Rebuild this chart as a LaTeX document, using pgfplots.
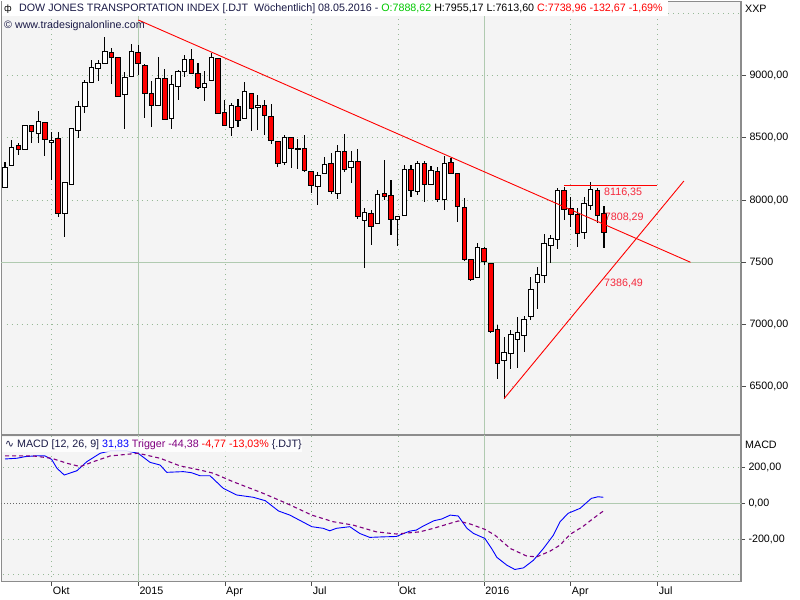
\documentclass[border=0pt]{standalone}
\usepackage{pgfplots}
\pgfplotsset{compat=1.18}
\usepackage{pgfplotstable}
\usepackage{fontspec}
\setmainfont{Liberation Sans}
\newfontfamily\djv{DejaVu Sans}

\definecolor{bgc}{RGB}{244,244,244}
\definecolor{gridc}{RGB}{150,185,150}
\definecolor{gridsolid}{RGB}{176,202,176}
\definecolor{navy}{RGB}{25,25,70}
\definecolor{ored}{RGB}{255,0,0}
\definecolor{ogreen}{RGB}{0,200,0}
\definecolor{tpurple}{RGB}{128,0,128}
\definecolor{lbl}{RGB}{245,40,60}
\definecolor{framec}{RGB}{140,140,140}

\newcommand\fs{\fontsize{10.7bp}{12bp}\selectfont}

\pgfplotstableread{
x o h l c
0 8104 8305 8104 8265
1 8275 8484 8275 8426
2 8436 8463 8366 8410
3 8410 8603 8410 8603
4 8603 8603 8463 8554
5 8538 8718 8463 8635
6 8627 8627 8358 8484
7 8466 8549 8162 8482
8 8492 8549 7867 7894
9 7894 8144 7701 8144
10 8128 8573 8128 8573
11 8557 8793 8498 8756
12 8756 8962 8699 8949
13 8949 9126 8949 9062
14 9054 9126 8954 9096
15 9102 9311 9102 9198
16 9190 9225 8933 9150
17 9150 9150 8836 8836
18 8852 9030 8575 8989
19 8997 9255 8997 9198
20 9190 9247 9005 9102
21 9078 9094 8656 8860
22 8860 8957 8587 8764
23 8761 9153 8753 8981
24 8981 9054 8640 8648
25 8656 9005 8575 8933
26 8917 9046 8801 9030
27 9030 9166 8989 9134
28 9134 9215 9021 9021
29 9021 9102 8893 8909
30 8909 9038 8796 8941
31 8965 9182 8965 9150
32 9142 9142 8691 8699
33 8708 8804 8603 8603
34 8587 8780 8519 8764
35 8756 8812 8587 8643
36 8659 8949 8659 8877
37 8860 8860 8555 8740
38 8748 8844 8563 8764
39 8764 8804 8522 8683
40 8675 8772 8450 8482
41 8474 8474 8265 8297
42 8305 8522 8281 8506
43 8506 8506 8257 8418
44 8406 8490 8249 8413
45 8418 8523 8225 8235
46 8229 8229 8055 8120
47 8112 8229 7964 8197
48 8216 8350 8216 8289
49 8297 8377 8047 8072
50 8055 8447 8012 8394
51 8394 8530 8225 8249
52 8265 8394 8136 8313
53 8313 8410 7851 7867
54 7838 7940 7452 7903
55 7894 7923 7642 7790
56 7814 8080 7814 8047
57 8055 8324 7999 8031
58 8039 8160 7722 7846
59 7846 7870 7634 7870
60 7878 8281 7878 8249
61 8249 8281 8023 8080
62 8072 8313 8039 8297
63 8297 8313 7983 8128
64 8128 8273 8128 8241
65 8233 8265 7983 8007
66 8007 8353 7919 8297
67 8305 8337 8216 8216
68 8216 8216 7827 7951
69 7943 8015 7513 7519
70 7519 7519 7352 7363
71 7379 7658 7371 7621
72 7613 7621 7481 7505
73 7492 7492 6933 6941
74 6961 6993 6558 6687
75 6711 6901 6405 6778
76 6767 6955 6639 6923
77 6880 7062 6652 6937
78 6912 7068 6780 7041
79 7062 7384 7036 7283
80 7339 7465 7127 7403
81 7395 7728 7336 7653
82 7637 7720 7497 7693
83 7685 8096 7605 8076
84 8074 8109 7841 7927
85 7935 8028 7787 7886
86 7886 7935 7621 7733
87 7742 8028 7685 7975
88 7959 8144 7921 8088
89 8074 8101 7814 7873
90 7888.62 7955.17 7613.60 7738.96
}\candles

\pgfplotstableread{
x m
0 249
1.8 253
3.0 262
4.8 267
6.0 266
7.0 247
7.8 197
8.9 159
10.8 183
12.3 234
14.3 281
15.8 294
18.3 294
20.0 281
21.8 230
23.3 215
24.3 174
26.8 178
28.0 172
29.3 155
30.8 155
32.8 84
34.8 47
37.3 34
39.1 15
41.1 -43
42.8 -66
46.1 -131
47.8 -140
48.8 -154
49.8 -140
51.8 -131
53.3 -169
54.8 -191
56.8 -188
58.8 -186
59.3 -178
60.8 -156
61.8 -150
62.8 -128
64.4 -98
65.6 -88
66.9 -66
68.1 -71
69.4 -140
70.4 -169
72.1 -197
73.1 -253
73.9 -303
75.4 -347
76.6 -371
77.9 -362
79.4 -319
80.9 -253
82.4 -178
83.4 -103
84.6 -56
86.4 -28
88.1 28
89.1 37
89.9 34
}\macd

\pgfplotstableread{
x t
0 266
4.2 266
7.0 253
9.3 225
11.3 206
13.3 234
15.8 266
18.3 275
20.0 281
23.3 253
26.3 210
29.3 187
31.3 169
34.3 121
38.8 56
42.3 0
46.1 -66
49.3 -103
52.3 -122
55.8 -160
58.8 -172
62.3 -160
64.4 -140
66.9 -112
68.1 -99
69.9 -116
72.1 -146
73.6 -178
75.9 -253
78.4 -296
79.9 -300
81.9 -268
83.4 -234
84.9 -174
86.9 -128
88.4 -84
89.9 -43
}\trig

\pgfplotsset{
  panel/.style={scale only axis, width=739.5bp, xmin=-0.526, xmax=110.58},
  mainpanel/.style={panel, at={(1.5bp,165bp)}, anchor=south west, height=433.5bp, ymin=6111.7, ymax=9596.6},
  dotgrid/.style={draw=gridc, line width=0.8bp, dash pattern=on 1bp off 4bp},
}

\begin{document}
\begin{tikzpicture}[x=1bp,y=1bp]
\path[use as bounding box, fill=white] (0,0) rectangle (800,600);

% ---------- main price panel ----------
\begin{axis}[mainpanel,
  axis background/.style={fill=bgc},
  axis line style={draw=framec, line width=1.2bp},
  xtick={7.02,33.05,46.07,59.05,85,98.06}, xticklabels={},
  extra x ticks={20.03,72.01}, extra x tick labels={},
  extra x tick style={grid style={solid, draw=gridsolid, line width=1bp}},
  xmajorgrids, ymajorgrids,
  grid style={dotgrid},
  x tick style={draw=none},
  ytick={6500,7000,8000,8500,9000},
  yticklabels={{6500,00},{7000,00},{8000,00},{8500,00},{9000,00}},
  extra y ticks={7500}, extra y tick labels={{7500,00}},
  extra y tick style={grid style={solid, draw=gridsolid, line width=1bp}},
  ytick pos=right, yticklabel pos=right, tick align=outside,
  y tick style={draw=black!70, line width=0.8bp}, major tick length=5bp,
  yticklabel style={font=\fs, anchor=west},
]
\addplot[dotgrid, forget plot] coordinates {(-1,9500) (112,9500)};
\addplot[draw=none, mark=none, forget plot,
  error bars/.cd, y dir=both, y explicit, error mark=none,
  error bar style={draw=black, line width=1.1bp, solid}]
  table[x=x, y expr={(\thisrow{h}+\thisrow{l})/2}, y error expr={(\thisrow{h}-\thisrow{l})/2}] {\candles};
\end{axis}

% ---------- candle bodies ----------
\begin{axis}[mainpanel, hide axis, ybar stacked, bar width=0.68]
\addplot[fill=none, draw=none] table[x=x, y expr={min(\thisrow{o},\thisrow{c})}] {\candles};
\addplot[fill=red, draw=black, line width=1bp] table[x=x, y expr={max(\thisrow{o}-\thisrow{c},0)}] {\candles};
\addplot[fill=white, draw=black, line width=1bp] table[x=x, y expr={max(\thisrow{c}-\thisrow{o},0)}] {\candles};
\end{axis}

% ---------- trend lines and labels ----------
\begin{axis}[mainpanel, hide axis]
\addplot[draw=ored, line width=0.9bp] coordinates {(20.03,9447.8) (103.0,7500)};
\addplot[draw=ored, line width=0.9bp] coordinates {(75.0,6405) (102.0,8153.6)};
\addplot[draw=ored, line width=1.6bp] coordinates {(84.03,8116.35) (98.0,8116.35)};
\node[anchor=west, inner sep=0, text=lbl, font=\fs] at (axis cs:90.0,8059) {8116,35};
\node[anchor=west, inner sep=0, text=lbl, font=\fs] at (axis cs:90.1,7858) {7808,29};
\node[anchor=west, inner sep=0, text=lbl, font=\fs] at (axis cs:90.0,7326) {7386,49};
\end{axis}

% ---------- MACD panel ----------
\begin{axis}[panel, at={(1.5bp,18.3bp)}, anchor=south west, height=146.7bp,
  ymin=-439.6, ymax=383.5,
  axis background/.style={fill=bgc},
  axis line style={draw=framec, line width=1.2bp},
  xtick={7.02,33.05,46.07,59.05,85,98.06}, xticklabels={Okt,Apr,Jul,Okt,Apr,Jul},
  extra x ticks={20.03,72.01}, extra x tick labels={2015,2016},
  extra x tick style={grid style={solid, draw=gridsolid, line width=1bp}},
  xmajorgrids, grid style={dotgrid},
  xtick pos=left, tick align=outside, major tick length=4bp,
  x tick style={draw=black!70, line width=0.8bp},
  xticklabel style={font=\fs, anchor=mid west, inner sep=1bp, yshift=-6bp},
  ytick={-200,0,200}, yticklabels={{-200,00},{0,00},{200,00}},
  ytick pos=right, yticklabel pos=right,
  y tick style={draw=black!70, line width=0.8bp},
  yticklabel style={font=\fs, anchor=west},
]
\addplot[dotgrid, forget plot] coordinates {(-1,200) (112,200)};
\addplot[dotgrid, forget plot] coordinates {(-1,-200) (112,-200)};
\addplot[dotgrid, forget plot] coordinates {(-1,-400) (112,-400)};
\addplot[draw=black!60, line width=0.8bp, dash pattern=on 1bp off 2bp, forget plot] coordinates {(-1,0) (72.01,0)};
\addplot[draw=gridsolid, line width=1bp, forget plot] coordinates {(72.01,0) (112,0)};
\addplot[blue, line width=0.9bp] table[x=x, y=m] {\macd};
\addplot[tpurple, line width=1.1bp, dash pattern=on 4bp off 3bp] table[x=x, y=t] {\trig};
\end{axis}

% ---------- texts ----------
\fill[white] (2,584) rectangle (668,598.5);
\node[anchor=west, inner sep=0, font=\fontsize{9bp}{10bp}\djv] at (4,591) {ф};
\node[anchor=west, inner sep=0, font=\fs, text=navy] at (19,591)
  {DOW JONES TRANSPORTATION INDEX [.DJT\ \ Wöchentlich] 08.05.2016 - \textcolor{ogreen}{O:7888,62} \textcolor{black}{H:7955,17 L:7613,60} \textcolor{ored}{C:7738,96 -132,67 -1,69\%}};
\node[anchor=west, inner sep=0, font=\fs, text=navy] at (4,574) {© www.tradesignalonline.com};
\node[anchor=west, inner sep=0, font=\fs, text=black] at (745,591) {XXP};
\node[anchor=west, inner sep=0, font=\fs, text=black] at (745,155) {MACD};
\fill[white, fill opacity=0.85] (2,148) rectangle (302,163);
\node[anchor=west, inner sep=0, font=\fs, text=navy] at (5,155.5)
  {{\djv ∿} MACD [12, 26, 9] \textcolor{blue}{31,83} \textcolor{tpurple}{Trigger -44,38} \textcolor{ored}{-4,77 -13,03\%} \{.DJT\}};
\end{tikzpicture}
\end{document}
